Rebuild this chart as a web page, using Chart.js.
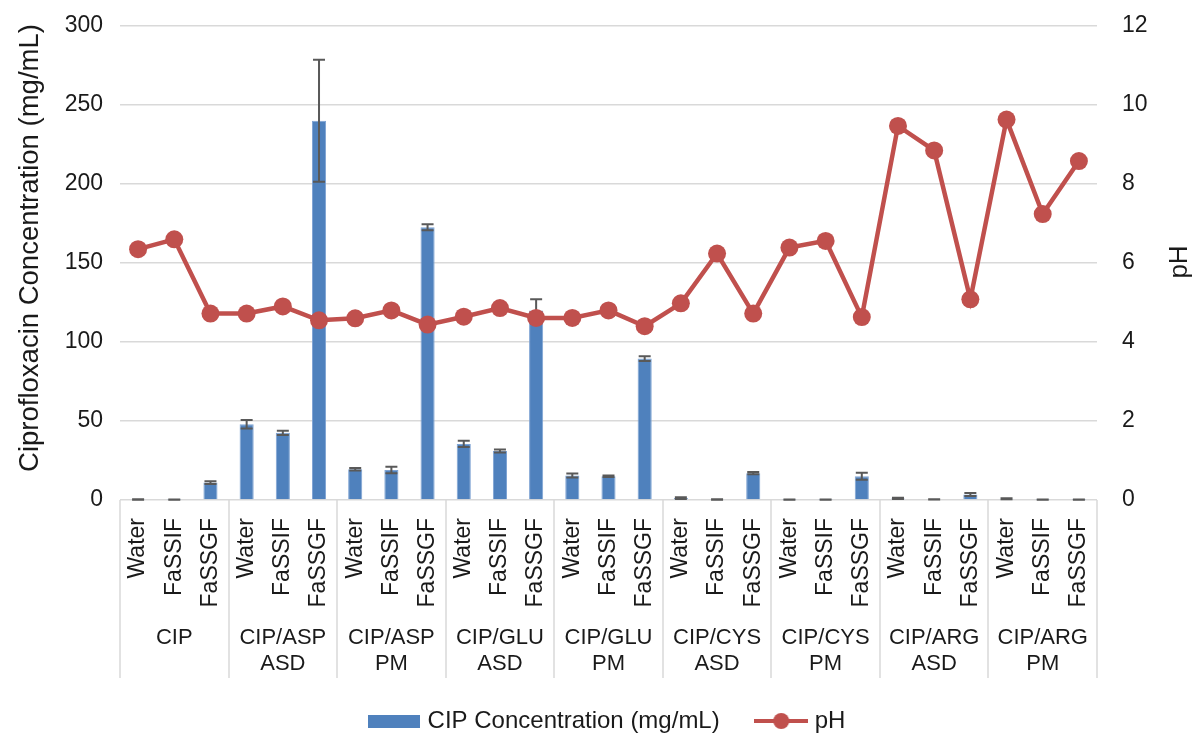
<!DOCTYPE html>
<html>
<head>
<meta charset="utf-8">
<script src="https://cdn.jsdelivr.net/npm/chart.js@4.4.1/dist/chart.umd.min.js"></script>
<style>
  html, body { margin: 0; padding: 0; background: #fff; }
</style>
</head>
<body>
<canvas id="chart" width="1196" height="736"></canvas>
<script>
// groups (two-line labels) and media within each group
const groups = [["CIP"], ["CIP/ASP", "ASD"], ["CIP/ASP", "PM"], ["CIP/GLU", "ASD"], ["CIP/GLU", "PM"],
                ["CIP/CYS", "ASD"], ["CIP/CYS", "PM"], ["CIP/ARG", "ASD"], ["CIP/ARG", "PM"]];
const media = ["Water", "FaSSIF", "FaSSGF"];
const labels = groups.flatMap(() => media);

// CIP concentration (mg/mL) and its error
const cipConc = [0.3, 0.2, 11,   48, 42.5, 240,   19.5, 19, 172.7,   35.5, 31, 120,   15.5, 15, 89.5,
                 1.2, 0.3, 17,   0.2, 0.2, 15,    1, 0.4, 3.5,       0.8, 0.2, 0.2];
const cipErr  = [0.1, 0.1, 0.8,  2.7, 1.3, 38.6,  0.8, 2, 1.9,       2, 1, 7,         1.2, 0.5, 1.5,
                 0.5, 0.1, 0.7,  0.1, 0.1, 2.2,   0.4, 0.1, 0.9,     0.3, 0.1, 0.1];

// pH
const pH = [6.35, 6.6, 4.72,   4.72, 4.9, 4.55,   4.6, 4.8, 4.44,   4.64, 4.86, 4.61,   4.61, 4.8, 4.40,
            4.98, 6.24, 4.72,  6.39, 6.56, 4.63,  9.47, 8.85, 5.08, 9.63, 7.24, 8.58];

const BLUE = "#4F81BD";
const RED = "#C0504D";
const TEXT = "#1a1a1a";
const GRID = "#D9D9D9";
const FONT = "'Liberation Sans', Arial, sans-serif";

// legend symbols
function legendBar() {
  const c = document.createElement("canvas");
  c.width = 52; c.height = 13;
  const g = c.getContext("2d");
  g.fillStyle = BLUE; g.fillRect(0, 0, 52, 13);
  return c;
}
function legendLine() {
  const c = document.createElement("canvas");
  c.width = 54; c.height = 18;
  const g = c.getContext("2d");
  g.strokeStyle = RED; g.lineWidth = 4;
  g.beginPath(); g.moveTo(0, 9); g.lineTo(54, 9); g.stroke();
  g.fillStyle = RED; g.beginPath(); g.arc(27, 9, 8, 0, Math.PI * 2); g.fill();
  return c;
}

const extras = {
  id: "extras",
  afterDatasetDraw(chart, args) {
    if (args.index !== 0) return;
    const ctx = chart.ctx, y = chart.scales.y;
    const meta = chart.getDatasetMeta(0);
    ctx.save();
    ctx.strokeStyle = "#595959";
    ctx.lineWidth = 2;
    meta.data.forEach((bar, i) => {
      const v = cipConc[i], e = cipErr[i];
      const top = y.getPixelForValue(v + e);
      const bot = y.getPixelForValue(Math.max(v - e, 0));
      ctx.beginPath();
      ctx.moveTo(bar.x, top); ctx.lineTo(bar.x, bot);
      ctx.moveTo(bar.x - 6, top); ctx.lineTo(bar.x + 6, top);
      ctx.moveTo(bar.x - 6, bot); ctx.lineTo(bar.x + 6, bot);
      ctx.stroke();
    });
    ctx.restore();
  },
  afterDraw(chart) {
    const ctx = chart.ctx, x = chart.scales.x, area = chart.chartArea;
    const step = x.getPixelForValue(1) - x.getPixelForValue(0);
    ctx.save();
    // group separators
    ctx.strokeStyle = GRID;
    ctx.lineWidth = 1.5;
    for (let g = 0; g <= groups.length; g++) {
      const px = Math.round(x.getPixelForValue(g * 3) - step / 2);
      ctx.beginPath();
      ctx.moveTo(px, area.bottom);
      ctx.lineTo(px, area.bottom + 178);
      ctx.stroke();
    }
    // group labels
    ctx.fillStyle = TEXT;
    ctx.font = "22px " + FONT;
    ctx.textAlign = "center";
    ctx.textBaseline = "middle";
    groups.forEach((g, i) => {
      const cx = x.getPixelForValue(i * 3 + 1);
      g.forEach((line, j) => ctx.fillText(line, cx, area.bottom + 138 + j * 26));
    });
    // axis titles
    ctx.font = "27.5px " + FONT;
    ctx.translate(30, 248);
    ctx.rotate(-Math.PI / 2);
    ctx.fillText("Ciprofloxacin Concentration (mg/mL)", 0, 0);
    ctx.setTransform(1, 0, 0, 1, 0, 0);
    ctx.font = "26px " + FONT;
    ctx.translate(1180, 262);
    ctx.rotate(-Math.PI / 2);
    ctx.fillText("pH", 0, 0);
    ctx.restore();
  }
};

new Chart(document.getElementById("chart"), {
  type: "bar",
  data: {
    labels: labels,
    datasets: [
      {
        type: "bar",
        label: "CIP Concentration (mg/mL)",
        data: cipConc,
        backgroundColor: BLUE,
        borderColor: "#7EA3D3",
        borderWidth: 1,
        barPercentage: 0.39,
        categoryPercentage: 1,
        yAxisID: "y",
        order: 2
      },
      {
        type: "line",
        label: "pH",
        data: pH,
        borderColor: RED,
        backgroundColor: RED,
        borderWidth: 4.5,
        pointRadius: 9,
        pointHoverRadius: 9,
        pointBackgroundColor: RED,
        pointBorderWidth: 0,
        tension: 0,
        yAxisID: "y1",
        order: 1
      }
    ]
  },
  options: {
    responsive: false,
    animation: false,
    layout: { padding: { top: 26, left: 22, right: 0, bottom: -7 } },
    plugins: {
      tooltip: { enabled: false },
      legend: {
        position: "bottom",
        labels: {
          usePointStyle: true,
          pointStyleWidth: 43,
          padding: 40,
          color: TEXT,
          font: { family: FONT, size: 24 },
          generateLabels: () => [
            { text: "CIP Concentration (mg/mL)", pointStyle: legendBar(), fillStyle: BLUE, strokeStyle: BLUE, lineWidth: 0, datasetIndex: 0, hidden: false, fontColor: TEXT },
            { text: "pH", pointStyle: legendLine(), fillStyle: RED, strokeStyle: RED, lineWidth: 0, datasetIndex: 1, hidden: false, fontColor: TEXT }
          ]
        }
      }
    },
    scales: {
      x: {
        grid: { display: false },
        border: { display: false },
        ticks: {
          autoSkip: false, minRotation: 90, maxRotation: 90, padding: 10,
          color: TEXT, font: { family: FONT, size: 23 }
        },
        afterFit: (s) => { s.height = 169; }
      },
      y: {
        position: "left",
        min: 0, max: 300,
        ticks: { stepSize: 50, padding: 17, color: TEXT, font: { family: FONT, size: 23 } },
        grid: { color: GRID, lineWidth: 1.5, drawTicks: false },
        border: { display: false },
        afterFit: (s) => { s.width = 98; s.paddingTop = 0; s.paddingBottom = 0; }
      },
      y1: {
        position: "right",
        min: 0, max: 12,
        ticks: { stepSize: 2, padding: 25, color: TEXT, font: { family: FONT, size: 23 } },
        grid: { display: false, drawTicks: false },
        border: { display: false },
        afterFit: (s) => { s.width = 99; s.paddingTop = 0; s.paddingBottom = 0; }
      }
    }
  },
  plugins: [extras]
});
</script>
</body>
</html>
